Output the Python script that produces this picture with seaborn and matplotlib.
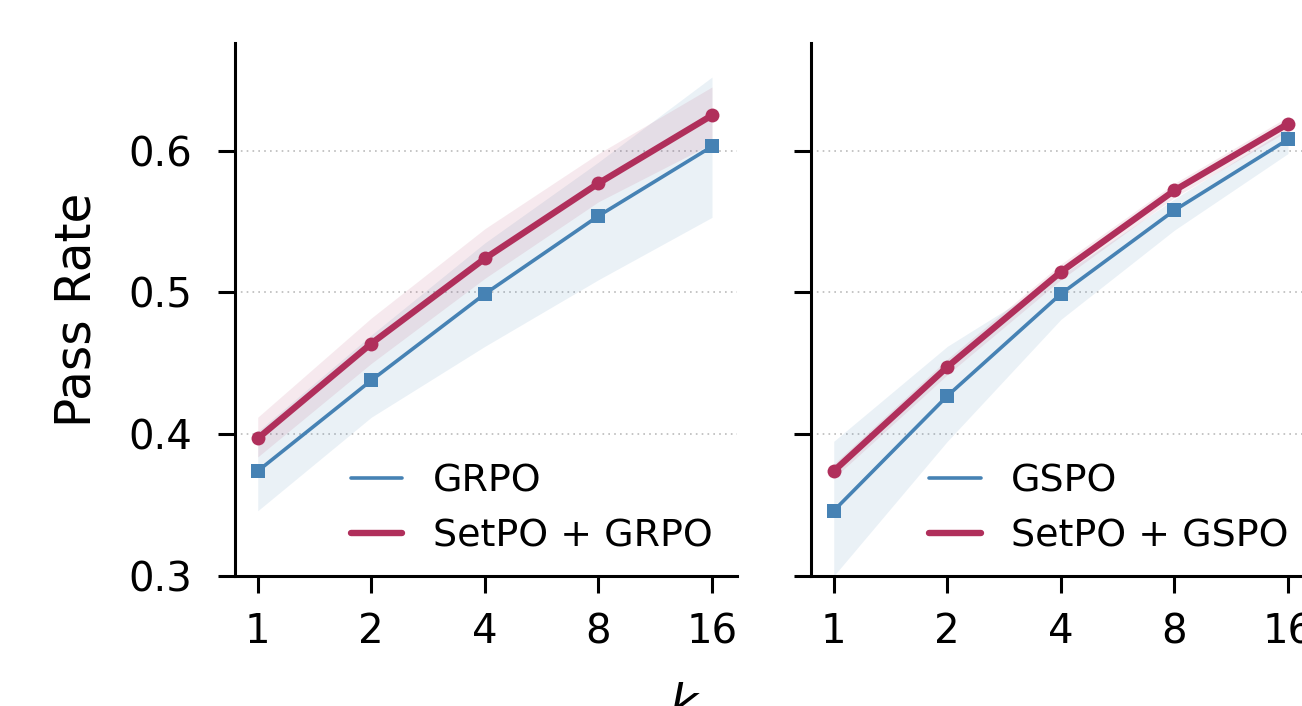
import numpy as np
import pandas as pd
import matplotlib
matplotlib.use("Agg")
import matplotlib.pyplot as plt
from matplotlib.lines import Line2D
import seaborn as sns

k_values = [1, 2, 4, 8, 16]

grpo_mean = [0.374, 0.438, 0.499, 0.554, 0.603]
grpo_low = [0.346, 0.412, 0.462, 0.509, 0.553]
grpo_high = [0.402, 0.470, 0.535, 0.592, 0.652]
setpo_grpo_mean = [0.397, 0.464, 0.524, 0.577, 0.625]
setpo_grpo_low = [0.384, 0.450, 0.510, 0.564, 0.605]
setpo_grpo_high = [0.412, 0.482, 0.545, 0.598, 0.645]

gspo_mean = [0.346, 0.427, 0.499, 0.558, 0.608]
gspo_low = [0.300, 0.395, 0.481, 0.544, 0.598]
gspo_high = [0.395, 0.462, 0.512, 0.566, 0.616]
setpo_gspo_mean = [0.374, 0.4475, 0.5145, 0.572, 0.619]
setpo_gspo_low = [0.369, 0.442, 0.509, 0.567, 0.614]
setpo_gspo_high = [0.379, 0.453, 0.520, 0.577, 0.624]

y_ticks = [0.3, 0.4, 0.5, 0.6]
x_tick_labels = ["1", "2", "4", "8", "16"]

BLUE = "#4682B4"
RED = "#B02F5B"

sns.set_theme(style="ticks")
plt.rcParams["font.family"] = ["DejaVu Sans"]
plt.rcParams["mathtext.fontset"] = "dejavusans"
plt.rcParams["text.color"] = "black"
plt.rcParams["axes.labelcolor"] = "black"
plt.rcParams["xtick.color"] = "black"
plt.rcParams["ytick.color"] = "black"

DPI = 200
fig = plt.figure(figsize=(1302 / DPI, 706 / DPI), dpi=DPI)

W, H = 1302, 706
def pos(x0, x1, ytop, ybot):
    return [x0 / W, (H - ybot) / H, (x1 - x0) / W, (ybot - ytop) / H]

ax1 = fig.add_axes(pos(235, 737, 43, 576))
ax2 = fig.add_axes(pos(811, 1313, 43, 576))

panels = [
    (ax1, "GRPO", grpo_mean, grpo_low, grpo_high,
     "SetPO + GRPO", setpo_grpo_mean, setpo_grpo_low, setpo_grpo_high),
    (ax2, "GSPO", gspo_mean, gspo_low, gspo_high,
     "SetPO + GSPO", setpo_gspo_mean, setpo_gspo_low, setpo_gspo_high),
]

FS = 14.5
FSL = 17.5
for ax, bname, bm, bl, bh, rname, rm, rl, rh in panels:
    ax.set_xscale("log", base=2)
    ax.fill_between(k_values, bl, bh, color=BLUE, alpha=0.11, lw=0, zorder=1)
    ax.fill_between(k_values, rl, rh, color=RED, alpha=0.10, lw=0, zorder=1)
    df_b = pd.DataFrame({"k": k_values, "v": bm})
    df_r = pd.DataFrame({"k": k_values, "v": rm})
    sns.lineplot(data=df_b, x="k", y="v", ax=ax, color=BLUE, lw=1.3,
                 marker="s", markersize=5.2, markeredgewidth=0, zorder=3)
    sns.lineplot(data=df_r, x="k", y="v", ax=ax, color=RED, lw=2.3,
                 marker="o", markersize=5.0, markeredgewidth=0, zorder=4)
    ax.set_xlim(2 ** -0.2, 2 ** 4.22)
    ax.set_ylim(0.3, 0.676)
    ax.set_xticks(k_values)
    ax.set_xticklabels(x_tick_labels)
    ax.xaxis.set_minor_locator(matplotlib.ticker.NullLocator())
    ax.set_yticks(y_ticks)
    for yv in y_ticks[1:]:
        ax.axhline(yv, color="#BBBBBB", lw=0.6, ls=(0, (1, 2.5)), zorder=0)
    ax.tick_params(axis="both", labelsize=FS, length=6, width=1.1,
                   color="black", labelcolor="black")
    ax.tick_params(axis="x", pad=7)
    ax.tick_params(axis="y", pad=9.5)
    for s in ["left", "bottom"]:
        ax.spines[s].set_linewidth(1.1)
        ax.spines[s].set_color("black")
    for s in ["top", "right"]:
        ax.spines[s].set_visible(False)
    ax.set_xlabel("")
    ax.set_ylabel("")
    handles = [Line2D([], [], color=BLUE, lw=1.3),
               Line2D([], [], color=RED, lw=2.3)]
    ax.legend(handles, [bname, rname], loc="lower right", frameon=False,
              fontsize=FS * 0.945, bbox_to_anchor=(1.008, -0.013),
              handlelength=1.36, handletextpad=0.8, labelspacing=0.5,
              borderaxespad=0.35)

ax2.set_yticklabels([])
ax1.set_ylabel("Pass Rate", fontsize=FSL, labelpad=10)

fig.text(685 / W, (H - 682) / H, "$k$", fontsize=FSL, ha="center", va="top")

fig.savefig("out.png", dpi=DPI)
